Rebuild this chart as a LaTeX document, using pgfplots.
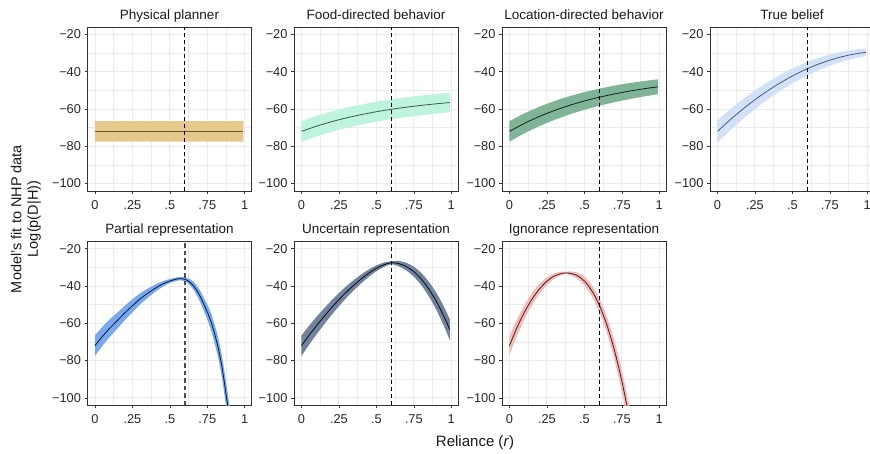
\documentclass[border=0pt]{standalone}
\usepackage{fontspec}
\setmainfont{Liberation Sans}
\usepackage{pgfplots}
\pgfplotsset{compat=1.18}
\usepackage{pgfplotstable}
\usepgfplotslibrary{fillbetween}

\definecolor{gridc}{HTML}{EBEBEB}
\definecolor{framec}{HTML}{333333}
\definecolor{physband}{HTML}{E4C88C}
\definecolor{physline}{HTML}{6B5A2D}
\definecolor{foodband}{HTML}{BEF3DE}
\definecolor{foodline}{HTML}{3D5A4E}
\definecolor{locband}{HTML}{7FB497}
\definecolor{locline}{HTML}{0D2419}
\definecolor{trueband}{HTML}{D2E0F8}
\definecolor{trueline}{HTML}{4B5C78}
\definecolor{partband}{HTML}{78A8EE}
\definecolor{partline}{HTML}{0B1735}
\definecolor{uncband}{HTML}{7283A0}
\definecolor{uncline}{HTML}{0A0A0A}
\definecolor{ignband}{HTML}{F2BABA}
\definecolor{ignline}{HTML}{4A1C1C}

% x = reliance, y = fit, lo/hi = band
\pgfplotstableread{
x y lo hi
0 -72 -77.5 -66.5
0.99 -72 -77.5 -66.5
}\tabPhys
\pgfplotstableread{
x y lo hi
0 -72 -77.5 -66.5
0.1 -69.22 -74.69 -63.75
0.2 -66.83 -72.27 -61.39
0.3 -64.77 -70.18 -59.36
0.4 -63.00 -68.38 -57.62
0.5 -61.47 -66.82 -56.12
0.6 -60.16 -65.48 -54.84
0.7 -59.03 -64.32 -53.74
0.8 -58.06 -63.32 -52.80
0.9 -57.22 -62.45 -51.99
0.99 -56.55 -61.75 -51.35
}\tabFood
\pgfplotstableread{
x y lo hi
0 -72 -77.5 -66.5
0.1 -67.70 -73.05 -62.35
0.2 -63.99 -69.19 -58.79
0.3 -60.80 -65.85 -55.75
0.4 -58.06 -62.96 -53.16
0.5 -55.70 -60.45 -50.95
0.6 -53.67 -58.27 -49.07
0.7 -51.92 -56.37 -47.47
0.8 -50.41 -54.71 -46.11
0.9 -49.12 -53.27 -44.97
0.99 -48.10 -52.10 -44.10
}\tabLoc
\pgfplotstableread{
x y lo hi
0 -72 -78 -66
0.1 -64.71 -70.31 -59.11
0.2 -58.09 -63.29 -52.89
0.3 -52.15 -56.95 -47.35
0.4 -46.89 -51.29 -42.49
0.5 -42.30 -46.30 -38.30
0.6 -38.39 -41.99 -34.79
0.7 -35.15 -38.35 -31.95
0.8 -32.59 -35.39 -29.79
0.9 -30.71 -33.11 -28.31
0.99 -29.60 -31.64 -27.56
}\tabTrue
\pgfplotstableread{
x y lo hi
0 -72 -77.5 -66.5
0.05 -67 -72.1 -61.9
0.1 -62.5 -67.2 -57.8
0.15 -58.5 -62.8 -54.2
0.2 -54.4 -58.3 -50.5
0.25 -50.6 -54.1 -47.1
0.3 -47 -50 -44
0.35 -44 -46.5 -41.5
0.4 -41.3 -43.3 -39.3
0.45 -39.0 -40.5 -37.5
0.5 -37.3 -38.4 -36.2
0.55 -36.2 -37.1 -35.3
0.575 -36.05 -36.95 -35.15
0.6 -36.4 -37.5 -35.3
0.625 -37.4 -38.9 -35.9
0.65 -39.2 -41.2 -37.2
0.675 -41.8 -44.3 -39.3
0.7 -45.2 -48.2 -42.2
0.725 -49.5 -53 -46
0.75 -54 -58 -50
0.775 -59.2 -63.7 -54.7
0.8 -66 -71 -61
0.825 -74 -79.5 -68.5
0.85 -84.5 -90.5 -78.5
0.875 -98 -104.5 -91.5
0.9 -112 -119 -105
}\tabPart
\pgfplotstableread{
x y lo hi
0 -72 -77.5 -66.5
0.05 -66.5 -71.61 -61.39
0.1 -61.3 -66.02 -56.58
0.15 -56.4 -60.73 -52.07
0.2 -51.7 -55.63 -47.77
0.25 -47.3 -50.84 -43.76
0.3 -43.2 -46.35 -40.05
0.35 -39.5 -42.26 -36.74
0.4 -36.1 -38.47 -33.73
0.45 -33.06 -35.04 -31.08
0.5 -30.5 -32.08 -28.92
0.55 -28.6 -29.79 -27.41
0.6 -27.5 -28.3 -26.7
0.65 -28.0 -29.43 -26.57
0.7 -29.6 -31.65 -27.55
0.75 -32.3 -34.98 -29.62
0.8 -36.3 -39.6 -33.0
0.85 -41.6 -45.53 -37.67
0.9 -48.2 -52.75 -43.65
0.95 -56.1 -61.28 -50.92
0.99 -63.4 -69.0 -57.8
}\tabUnc
\pgfplotstableread{
x y lo hi
0 -72 -77.0 -67.0
0.05 -62.3 -66.71 -57.89
0.1 -54.0 -57.83 -50.17
0.15 -47.1 -50.34 -43.86
0.2 -41.6 -44.26 -38.94
0.25 -37.4 -39.47 -35.33
0.3 -34.6 -36.09 -33.11
0.35 -33.2 -34.1 -32.3
0.376 -33.0 -33.6 -32.4
0.4 -33.1 -34.04 -32.16
0.45 -34.3 -35.94 -32.66
0.5 -37.3 -39.64 -34.96
0.55 -42.6 -45.64 -39.56
0.6 -50.3 -54.04 -46.56
0.65 -60.8 -65.24 -56.36
0.7 -74.3 -79.44 -69.16
0.75 -90.9 -96.74 -85.06
0.8 -110.7 -117.24 -104.16
}\tabIgn

\pgfplotsset{
  panel/.style={
    width=164pt, height=164pt, scale only axis, anchor=south west,
    xmin=-0.05, xmax=1.045, ymin=-104, ymax=-16,
    xtick={0,0.25,0.5,0.75,1}, xticklabels={0,.25,.5,.75,1},
    ytick={-100,-80,-60,-40,-20}, yticklabels={−100,−80,−60,−40,−20},
    minor xtick={0.125,0.375,0.625,0.875}, minor ytick={-90,-70,-50,-30},
    grid=both,
    major grid style={color=gridc, line width=0.9pt},
    minor grid style={color=gridc, line width=0.5pt},
    axis line style={color=framec, line width=0.8pt},
    tick style={color=framec, line width=0.6pt},
    tick align=outside, major tick length=3pt, minor tick length=0pt,
    xtick pos=lower, ytick pos=left,
    tick label style={font=\fontsize{12.8}{14}\selectfont, color=black!85},
    xticklabel style={yshift=-3pt},
    title style={font=\fontsize{13.5}{15}\selectfont, color=black!90,
      at={(0.5,1)}, anchor=base, yshift=1.5pt},
  },
}

% #1 x, #2 y, #3 title, #4 table, #5 band, #6 line, #7 dashed line style
\newcommand{\panel}[7]{%
  \begin{axis}[panel, at={(#1pt,#2pt)}, title={#3}]
    \addplot[draw=none, name path=hi, smooth, forget plot] table[x=x,y=hi]{#4};
    \addplot[draw=none, name path=lo, smooth, forget plot] table[x=x,y=lo]{#4};
    \addplot[fill=#5, draw=none] fill between[of=hi and lo];
    \addplot[color=#6, line width=0.8pt, smooth] table[x=x,y=y]{#4};
    \addplot[#7] coordinates {(0.6,-104) (0.6,-16)};
  \end{axis}}

\begin{document}
\begin{tikzpicture}
\tikzset{vl/.style={black, line width=1pt, dash pattern=on 4pt off 3pt},
  vlgray/.style={black!70, line width=1.5pt, dash pattern=on 4.5pt off 3pt}}
\panel{87.5}{263}{Physical planner}{\tabPhys}{physband}{physline}{vl}
\panel{294}{263}{Food-directed behavior}{\tabFood}{foodband}{foodline}{vl}
\panel{502}{263}{Location-directed behavior}{\tabLoc}{locband}{locline}{vl}
\panel{710}{263}{True belief}{\tabTrue}{trueband}{trueline}{vl}
\panel{87.5}{48.7}{Partial representation}{\tabPart}{partband}{partline}{vlgray}
\panel{294}{48.7}{Uncertain representation}{\tabUnc}{uncband}{uncline}{vl}
\panel{502}{48.7}{Ignorance representation}{\tabIgn}{ignband}{ignline}{vl}
\node[rotate=90, align=center, font=\fontsize{14.5}{16.5}\selectfont, color=black!90]
  at (26pt,235pt) {Model’s fit to NHP data\\Log(p(D|H))};
\node[anchor=base, font=\fontsize{15}{17}\selectfont, color=black!90]
  at (475pt,7pt) {Reliance (\textit{r})};
\pgfresetboundingbox
\useasboundingbox (0,0) rectangle (870pt,454pt);
\end{tikzpicture}
\end{document}
